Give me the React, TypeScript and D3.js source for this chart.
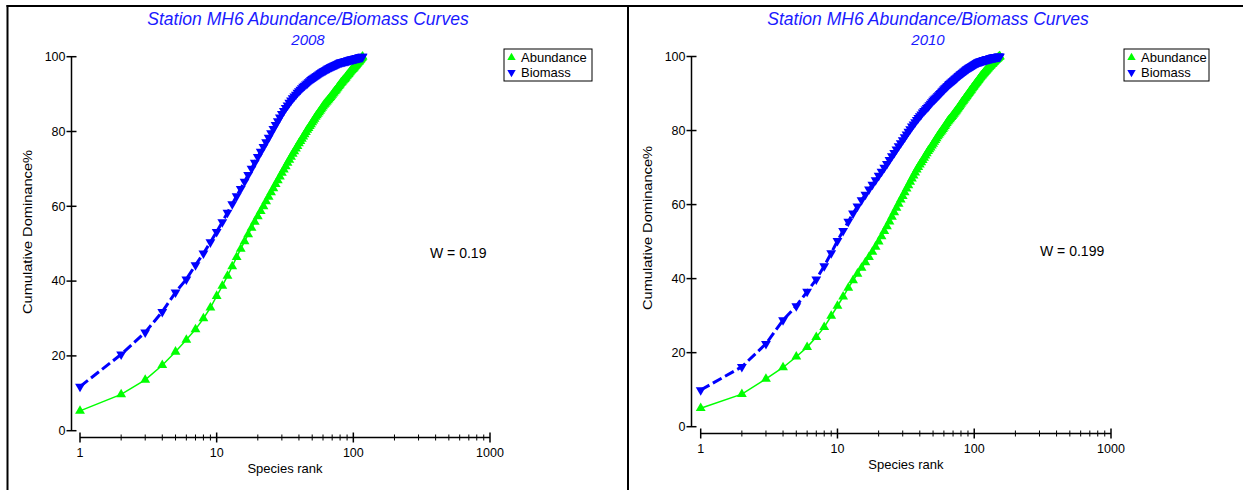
import React from "react";
import * as d3 from "d3";

// ---------- DATA ----------
const years = ["2008", "2010"];
const wValues = ["W = 0.19", "W = 0.199"];
const seriesNames = ["Abundance", "Biomass"];
const xTickValues = [1, 10, 100, 1000];
const yTickValues = [0, 20, 40, 60, 80, 100];

// Cumulative dominance % by species rank (rank = index + 1)
const abundance2008 = [
  5.3, 9.7, 13.6, 17.5, 21.1, 24.3, 27.1, 30.0, 32.9, 36.0,
  38.7, 41.4, 43.9, 46.4, 48.6, 50.6, 52.5, 54.2, 55.8, 57.3,
  58.7, 60.0, 61.3, 62.5, 63.7, 64.8, 65.9, 66.9, 67.9, 68.9,
  69.8, 70.7, 71.6, 72.4, 73.2, 74.0, 74.7, 75.4, 76.1, 76.8,
  77.4, 78.0, 78.6, 79.2, 79.8, 80.4, 80.9, 81.4, 81.9, 82.4,
  82.9, 83.4, 83.9, 84.3, 84.7, 85.1, 85.5, 85.9, 86.3, 86.7,
  87.1, 87.4, 87.7, 88.0, 88.3, 88.6, 88.9, 89.2, 89.5, 89.8,
  90.1, 90.4, 90.7, 90.9, 91.2, 91.5, 91.8, 92.1, 92.3, 92.6,
  92.9, 93.1, 93.3, 93.6, 93.8, 94.0, 94.2, 94.4, 94.7, 94.9,
  95.1, 95.3, 95.5, 95.8, 96.0, 96.2, 96.4, 96.6, 96.7, 96.9,
  97.1, 97.3, 97.5, 97.7, 97.8, 98.0, 98.2, 98.4, 98.6, 98.7,
  98.9, 99.1, 99.3, 99.5, 99.6, 99.8, 100.0,
];
const biomass2008 = [
  11.8, 20.4, 26.3, 31.8, 37.0, 40.5, 44.3, 47.4, 50.4, 53.2,
  55.8, 58.3, 60.6, 62.7, 64.7, 66.6, 68.4, 70.1, 71.7, 73.2,
  74.6, 75.9, 77.2, 78.4, 79.6, 80.7, 81.8, 82.8, 83.8, 84.7,
  85.5, 86.3, 87.0, 87.7, 88.3, 88.9, 89.4, 89.9, 90.4, 90.8,
  91.2, 91.6, 92.0, 92.3, 92.6, 92.9, 93.2, 93.5, 93.8, 94.1,
  94.3, 94.5, 94.7, 94.9, 95.1, 95.3, 95.5, 95.7, 95.9, 96.0,
  96.2, 96.3, 96.5, 96.6, 96.8, 96.9, 97.0, 97.2, 97.3, 97.4,
  97.5, 97.6, 97.7, 97.8, 97.9, 98.0, 98.1, 98.2, 98.3, 98.4,
  98.5, 98.5, 98.6, 98.6, 98.7, 98.7, 98.8, 98.8, 98.9, 98.9,
  99.0, 99.0, 99.1, 99.1, 99.2, 99.2, 99.3, 99.3, 99.3, 99.4,
  99.4, 99.5, 99.5, 99.5, 99.6, 99.6, 99.7, 99.7, 99.7, 99.8,
  99.8, 99.8, 99.9, 99.9, 99.9, 100.0, 100.0,
];
const abundance2010 = [
  5.0, 8.8, 12.9, 16.0, 18.9, 21.5, 24.2, 26.9, 29.9, 32.6,
  35.1, 37.5, 39.5, 41.3, 42.9, 44.4, 45.8, 47.2, 48.6, 50.0,
  51.4, 52.8, 54.1, 55.4, 56.7, 57.9, 59.1, 60.2, 61.3, 62.3,
  63.3, 64.3, 65.2, 66.1, 67.0, 67.8, 68.6, 69.4, 70.1, 70.8,
  71.4, 72.0, 72.6, 73.2, 73.8, 74.4, 74.9, 75.4, 75.9, 76.4,
  76.9, 77.4, 77.9, 78.4, 78.8, 79.2, 79.6, 80.0, 80.4, 80.8,
  81.2, 81.6, 82.0, 82.4, 82.7, 83.0, 83.3, 83.6, 83.9, 84.2,
  84.5, 84.8, 85.1, 85.4, 85.7, 86.0, 86.3, 86.6, 86.9, 87.2,
  87.5, 87.8, 88.0, 88.3, 88.6, 88.8, 89.1, 89.3, 89.6, 89.8,
  90.1, 90.3, 90.6, 90.8, 91.0, 91.3, 91.5, 91.7, 91.9, 92.2,
  92.4, 92.6, 92.8, 93.0, 93.2, 93.4, 93.6, 93.8, 94.0, 94.2,
  94.4, 94.6, 94.8, 94.9, 95.1, 95.3, 95.4, 95.6, 95.8, 95.9,
  96.1, 96.2, 96.4, 96.5, 96.7, 96.8, 97.0, 97.1, 97.2, 97.4,
  97.5, 97.6, 97.8, 97.9, 98.0, 98.1, 98.3, 98.4, 98.5, 98.6,
  98.8, 98.9, 99.0, 99.1, 99.2, 99.3, 99.4, 99.5, 99.6, 99.7,
  99.8, 99.9, 100.0, 100.0,
];
const biomass2010 = [
  9.9, 16.2, 22.4, 28.8, 32.6, 36.5, 39.8, 43.4, 46.9, 50.2,
  52.9, 55.4, 57.6, 59.5, 61.2, 62.7, 64.1, 65.4, 66.6, 67.8,
  68.9, 70.0, 71.0, 72.1, 73.1, 74.0, 74.9, 75.8, 76.6, 77.4,
  78.2, 79.0, 79.7, 80.4, 81.1, 81.7, 82.3, 82.9, 83.4, 83.9,
  84.4, 84.9, 85.3, 85.7, 86.1, 86.5, 86.9, 87.3, 87.7, 88.1,
  88.4, 88.7, 89.0, 89.3, 89.6, 89.9, 90.2, 90.5, 90.8, 91.1,
  91.4, 91.6, 91.9, 92.1, 92.4, 92.6, 92.8, 93.0, 93.2, 93.4,
  93.6, 93.8, 94.0, 94.2, 94.4, 94.6, 94.8, 94.9, 95.1, 95.3,
  95.4, 95.6, 95.7, 95.9, 96.0, 96.2, 96.3, 96.5, 96.6, 96.7,
  96.9, 97.0, 97.1, 97.2, 97.3, 97.4, 97.5, 97.6, 97.7, 97.8,
  97.9, 98.0, 98.1, 98.2, 98.3, 98.4, 98.4, 98.5, 98.6, 98.6,
  98.7, 98.7, 98.8, 98.8, 98.9, 98.9, 99.0, 99.0, 99.1, 99.1,
  99.1, 99.2, 99.2, 99.3, 99.3, 99.3, 99.4, 99.4, 99.4, 99.5,
  99.5, 99.5, 99.6, 99.6, 99.6, 99.7, 99.7, 99.7, 99.7, 99.8,
  99.8, 99.8, 99.8, 99.9, 99.9, 99.9, 99.9, 99.9, 100.0, 100.0,
  100.0, 100.0, 100.0, 100.0,
];

// ---------- LAYOUT ----------
const W = 1243;
const H = 490;
const FONT = "'Liberation Sans', Arial, Helvetica, sans-serif";
const GREEN = "#00ff00";
const BLUE = "#0000ff";
const TITLE_BLUE = "#1a1aff";

const panels = [
  {
    year: years[0], w: wValues[0], abundance: abundance2008, biomass: biomass2008,
    x0: 80, x1: 490, yTop: 56.7, yBottom: 430.7, yAxisX: 71.5, xAxisY: 437.5,
    titleX: 308, legendX: 504, legendW: 88, wX: 430, wY: 253, yLabelX: 32, yLabelY: 232,
  },
  {
    year: years[1], w: wValues[1], abundance: abundance2010, biomass: biomass2010,
    x0: 700.7, x1: 1111, yTop: 56.5, yBottom: 426.7, yAxisX: 691.5, xAxisY: 433.5,
    titleX: 928, legendX: 1124, legendW: 85, wX: 1040, wY: 251, yLabelX: 652, yLabelY: 228,
  },
];

const upTri = d3.symbol().type(d3.symbolTriangle).size(42)() as string;

function Panel({ p }: { p: (typeof panels)[number] }) {
  const x = d3.scaleLog().domain([1, 1000]).range([p.x0, p.x1]);
  const y = d3.scaleLinear().domain([0, 100]).range([p.yBottom, p.yTop]);
  const line = d3
    .line<number>()
    .x((_, i) => x(i + 1))
    .y((d) => y(d));

  const minor: number[] = [];
  [1, 10, 100].forEach((dec) => {
    for (let k = 2; k <= 9; k++) minor.push(dec * k);
  });

  const xCenter = (p.x0 + p.x1) / 2;

  return (
    <g>
      {/* titles */}
      <text x={p.titleX} y={24.5} textAnchor="middle" fontStyle="italic" fontSize={17.5} fill={TITLE_BLUE} fontFamily={FONT}>
        Station MH6 Abundance/Biomass Curves
      </text>
      <text x={p.titleX} y={44.5} textAnchor="middle" fontStyle="italic" fontSize={15} fill={TITLE_BLUE} fontFamily={FONT}>
        {p.year}
      </text>

      {/* y axis */}
      <line x1={p.yAxisX} x2={p.yAxisX} y1={y(100)} y2={y(0)} stroke="#000" strokeWidth={1.5} />
      {yTickValues.map((t) => (
        <g key={t}>
          <line x1={p.yAxisX - 5} x2={p.yAxisX + 5} y1={y(t)} y2={y(t)} stroke="#000" strokeWidth={1.5} />
          <text x={p.yAxisX - 6} y={y(t)} dy="0.35em" textAnchor="end" fontSize={12.5} fontFamily={FONT} fill="#000">
            {t}
          </text>
        </g>
      ))}
      <text
        transform={`translate(${p.yLabelX},${p.yLabelY}) rotate(-90)`}
        textAnchor="middle"
        fontSize={13}
        fontFamily={FONT}
        fill="#000"
        textLength={164}
        lengthAdjust="spacingAndGlyphs"
      >
        Cumulative Dominance%
      </text>

      {/* x axis */}
      <line x1={x(1)} x2={x(1000)} y1={p.xAxisY} y2={p.xAxisY} stroke="#000" strokeWidth={1.5} />
      {minor.map((t) => (
        <line key={t} x1={x(t)} x2={x(t)} y1={p.xAxisY - 3} y2={p.xAxisY + 3} stroke="#000" strokeWidth={1} />
      ))}
      {xTickValues.map((t) => (
        <g key={t}>
          <line x1={x(t)} x2={x(t)} y1={p.xAxisY - 5} y2={p.xAxisY + 5} stroke="#000" strokeWidth={1.5} />
          <text x={x(t)} y={p.xAxisY + 19.5} textAnchor="middle" fontSize={12.5} fontFamily={FONT} fill="#000">
            {t}
          </text>
        </g>
      ))}
      <text x={xCenter} y={p.xAxisY + 35.5} textAnchor="middle" fontSize={13} fontFamily={FONT} fill="#000">
        Species rank
      </text>

      {/* abundance */}
      <path d={line(p.abundance) || ""} fill="none" stroke={GREEN} strokeWidth={1.5} />
      {p.abundance.map((v, i) => (
        <path key={"a" + i} d={upTri} transform={`translate(${x(i + 1)},${y(v)})`} fill={GREEN} />
      ))}

      {/* biomass */}
      <path d={line(p.biomass) || ""} fill="none" stroke={BLUE} strokeWidth={3} strokeDasharray="10,4" />
      {p.biomass.map((v, i) => (
        <path key={"b" + i} d={upTri} transform={`translate(${x(i + 1)},${y(v)}) rotate(180)`} fill={BLUE} />
      ))}

      {/* legend */}
      <rect x={p.legendX} y={49} width={p.legendW} height={32} fill="#fff" stroke="#000" strokeWidth={1} />
      <path d={upTri} transform={`translate(${p.legendX + 7.5},${57.5}) scale(0.85)`} fill={GREEN} />
      <text x={p.legendX + 17} y={57} dy="0.35em" fontSize={13} fontFamily={FONT} fill="#000">
        {seriesNames[0]}
      </text>
      <path d={upTri} transform={`translate(${p.legendX + 7.5},${72.5}) rotate(180) scale(0.85)`} fill={BLUE} />
      <text x={p.legendX + 17} y={72.5} dy="0.35em" fontSize={13} fontFamily={FONT} fill="#000">
        {seriesNames[1]}
      </text>

      {/* W statistic */}
      <text x={p.wX} y={p.wY} dy="0.35em" fontSize={14} fontFamily={FONT} fill="#000">
        {p.w}
      </text>
    </g>
  );
}

export default function App() {
  return (
    <svg
      width={W}
      height={H}
      viewBox={`0 0 ${W} ${H}`}
      style={{ position: "absolute", left: 0, top: 0, background: "#fff" }}
    >
      <rect x={0} y={0} width={W} height={H} fill="#fff" />
      {/* frame */}
      <line x1={6.5} x2={W} y1={6} y2={6} stroke="#000" strokeWidth={2} />
      <line x1={7.5} x2={7.5} y1={5} y2={H} stroke="#000" strokeWidth={2} />
      <line x1={628} x2={628} y1={5} y2={H} stroke="#000" strokeWidth={2} />
      {panels.map((p, i) => (
        <Panel key={i} p={p} />
      ))}
    </svg>
  );
}
